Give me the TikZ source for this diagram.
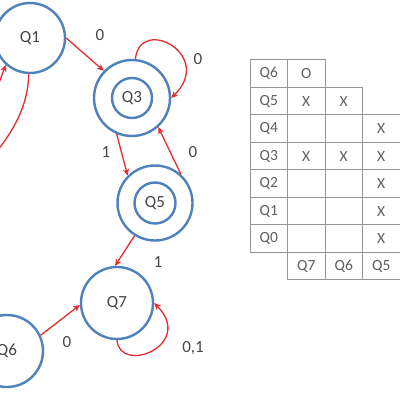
\documentclass[tikz,border=0pt]{standalone}
\usepackage{fontspec}
\setmainfont{Carlito}
\usetikzlibrary{arrows.meta}
\definecolor{cblue}{RGB}{79,129,189}
\definecolor{cred}{RGB}{230,45,45}
\definecolor{tgray}{RGB}{150,150,150}
\definecolor{ttext}{RGB}{70,70,70}
\definecolor{ctext}{RGB}{95,95,95}
\begin{document}
\begin{tikzpicture}[x=1pt,y=1pt,
  state/.style={circle, draw=cblue, line width=2.4pt, inner sep=0pt, text=ttext, font=\fontsize{17}{17}\selectfont},
  edge/.style={draw=cred, line width=1.3pt, -{Stealth[length=6.5pt,width=6pt,inset=1.5pt]}},
  edgeline/.style={draw=cred, line width=1.3pt},
  lbl/.style={text=ttext, font=\fontsize{17}{17}\selectfont, inner sep=0pt},
  cell/.style={rectangle, draw=tgray, line width=1pt, minimum width=37.5pt, minimum height=27.5pt, inner sep=0pt, text=ctext, font=\fontsize{15.5}{15.5}\selectfont}]
\path[use as bounding box, clip] (0,0) rectangle (400,400);
\fill[white] (0,0) rectangle (400,400);
% states
\node[state, minimum size=70pt] (Q1) at (30,362) {Q1};
\node[state, minimum size=76pt] (Q3) at (132,302) {};
\node[state, minimum size=40pt] (Q3i) at (132,302) {Q3};
\node[state, minimum size=75pt] (Q5) at (155,197) {};
\node[state, minimum size=41pt] (Q5i) at (155,197) {Q5};
\node[state, minimum size=72pt] (Q7) at (117,97) {Q7};
\node[state, minimum size=72pt] (Q6) at (7,49) {Q6};
\coordinate (offA) at (-12,290);
\coordinate (offB) at (-10,240);
% edges
\draw[edge] (Q1.east) -- (Q3.136);
\node[lbl] (l13) at (100,365) {0};
\draw[edge] (Q3.85) .. controls (140,385) and (215,345) .. (Q3.east);
\node[lbl] (l33) at (198,341) {0};
\draw[edge] (Q3.-113) -- (Q5.135);
\node[lbl] (l35) at (106,248) {1};
\draw[edge] (Q5.48) -- (Q3.-48);
\node[lbl] (l53) at (193,248) {0};
\draw[edge] (Q5.-122) -- (Q7.93);
\node[lbl] (l57) at (158,138) {1};
\draw[edge] (Q6.25) -- (Q7.183);
\node[lbl] (l67) at (67,58) {0};
\draw[edge] (Q7.-90) .. controls (120,25) and (195,55) .. (Q7.east);
\node[lbl] (l77) at (193,52) {0,1};
\draw[edge] (offA) .. controls (-5,305) and (0,320) .. (Q1.-132);
\draw[edgeline] (Q1.-92) .. controls (28,295) and (15,270) .. (offB);
% table
\node[cell] (r6) at (268.75,326.25) {Q6};
\node[cell] (r6a) at (306.25,326.25) {O};
\node[cell] (r5) at (268.75,298.75) {Q5};
\node[cell] (r5a) at (306.25,298.75) {X};
\node[cell] (r5b) at (343.75,298.75) {X};
\node[cell] (r4) at (268.75,271.25) {Q4};
\node[cell] (r4a) at (306.25,271.25) {};
\node[cell] (r4b) at (343.75,271.25) {};
\node[cell] (r4c) at (381.25,271.25) {X};
\node[cell] (r3) at (268.75,243.75) {Q3};
\node[cell] (r3a) at (306.25,243.75) {X};
\node[cell] (r3b) at (343.75,243.75) {X};
\node[cell] (r3c) at (381.25,243.75) {X};
\node[cell] (r2) at (268.75,216.25) {Q2};
\node[cell] (r2a) at (306.25,216.25) {};
\node[cell] (r2b) at (343.75,216.25) {};
\node[cell] (r2c) at (381.25,216.25) {X};
\node[cell] (r1) at (268.75,188.75) {Q1};
\node[cell] (r1a) at (306.25,188.75) {};
\node[cell] (r1b) at (343.75,188.75) {};
\node[cell] (r1c) at (381.25,188.75) {X};
\node[cell] (r0) at (268.75,161.25) {Q0};
\node[cell] (r0a) at (306.25,161.25) {};
\node[cell] (r0b) at (343.75,161.25) {};
\node[cell] (r0c) at (381.25,161.25) {X};
\node[cell] (c7) at (306.25,133.75) {Q7};
\node[cell] (c6) at (343.75,133.75) {Q6};
\node[cell] (c5) at (381.25,133.75) {Q5};
\end{tikzpicture}
\end{document}
